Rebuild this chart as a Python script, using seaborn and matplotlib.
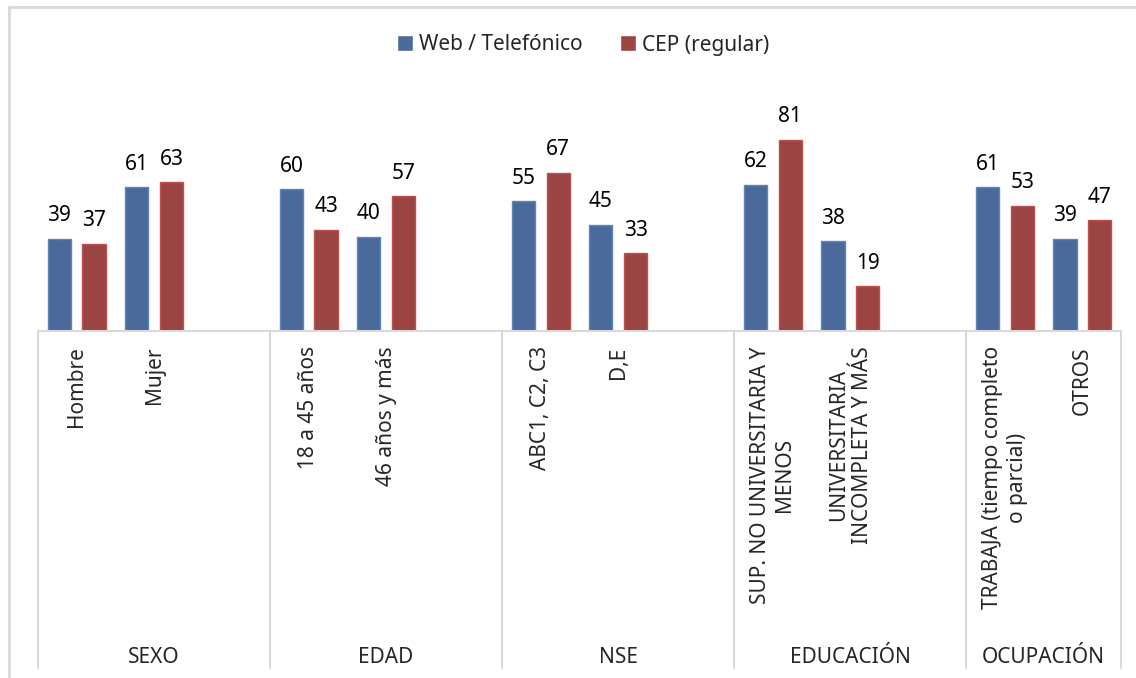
import pandas as pd
import seaborn as sns
import matplotlib.pyplot as plt
from matplotlib.lines import Line2D

# categorias y valores
categorias = ['Hombre', 'Mujer',
              '18 a 45 años', '46 años y más',
              'ABC1, C2, C3', 'D,E',
              'SUP. NO UNIVERSITARIA Y\nMENOS', 'UNIVERSITARIA\nINCOMPLETA Y MÁS',
              'TRABAJA (tiempo completo\no parcial)', 'OTROS']
web = [39, 61, 60, 40, 55, 45, 62, 38, 61, 39]
cep = [37, 63, 43, 57, 67, 33, 81, 19, 53, 47]
grupos = ['SEXO', 'EDAD', 'NSE', 'EDUCACIÓN', 'OCUPACIÓN']
series = ['Web / Telefónico', 'CEP (regular)']

# orden con un hueco vacio al final de cada grupo (menos el ultimo)
orden = ['Hombre', 'Mujer', ' ',
         '18 a 45 años', '46 años y más', '  ',
         'ABC1, C2, C3', 'D,E', '   ',
         'SUP. NO UNIVERSITARIA Y\nMENOS', 'UNIVERSITARIA\nINCOMPLETA Y MÁS', '    ',
         'TRABAJA (tiempo completo\no parcial)', 'OTROS']
limites = [-0.5, 2.5, 5.5, 8.5, 11.5, 13.5]

df = pd.DataFrame({
    'categoria': categorias * 2,
    'valor': web + cep,
    'serie': [series[0]] * len(web) + [series[1]] * len(cep),
})

sns.set_style('white')
plt.rcParams['font.family'] = ['Noto Sans', 'DejaVu Sans']

fig = plt.figure(figsize=(11.36, 6.78), dpi=100)
ax = fig.add_axes([38 / 1136, 1 - 331 / 678, (1121 - 38) / 1136, 236 / 678])

sns.barplot(data=df, x='categoria', y='valor', hue='serie', order=orden,
            hue_order=series, palette=['#4A6A9B', '#9A4544'], saturation=1,
            width=0.9, gap=0.33, ax=ax)

# bordes un poco mas claros como en excel
for cont, ec in zip(ax.containers, ['#5C86BE', '#C0504D']):
    for b in cont:
        b.set_edgecolor(ec)
        b.set_linewidth(1)
    ax.bar_label(cont, padding=9, fontsize=15, color='black')

ax.set_ylim(0, 100)
ax.set_xlim(-0.5, 13.5)
ax.set_yticks([])
ax.set_xlabel('')
ax.set_ylabel('')
for s in ['top', 'left', 'right']:
    ax.spines[s].set_visible(False)
ax.spines['bottom'].set_color('#d9d9d9')
ax.spines['bottom'].set_linewidth(1.5)
ax.tick_params(axis='x', length=0, pad=11, labelsize=15, rotation=90)

# separadores de grupos y nombres de grupo
trans = ax.get_xaxis_transform()
for x in limites:
    ax.plot([x, x], [0, -1.43], transform=trans, color='#d9d9d9', lw=1.5, clip_on=False)
for i, g in enumerate(grupos):
    xc = (limites[i] + limites[i + 1]) / 2
    ax.text(xc, -1.385, g, transform=trans, ha='center', va='center', fontsize=15)

# leyenda arriba
handles, labels = ax.get_legend_handles_labels()
ax.get_legend().remove()
fig.legend(handles, labels, loc='center', bbox_to_anchor=(0.513, 1 - 45 / 678), ncol=2,
           frameon=False, fontsize=15, handlelength=0.8, handleheight=0.8,
           handletextpad=0.25, columnspacing=1.8)

# marco exterior del grafico
fig.add_artist(Line2D([9 / 1136, 9 / 1136], [0, 1 - 7 / 678], transform=fig.transFigure,
                      color='#d9d9d9', lw=2))
fig.add_artist(Line2D([9 / 1136, 1], [1 - 7 / 678, 1 - 7 / 678], transform=fig.transFigure,
                      color='#d9d9d9', lw=2))

fig.savefig('out.png', dpi=100)
